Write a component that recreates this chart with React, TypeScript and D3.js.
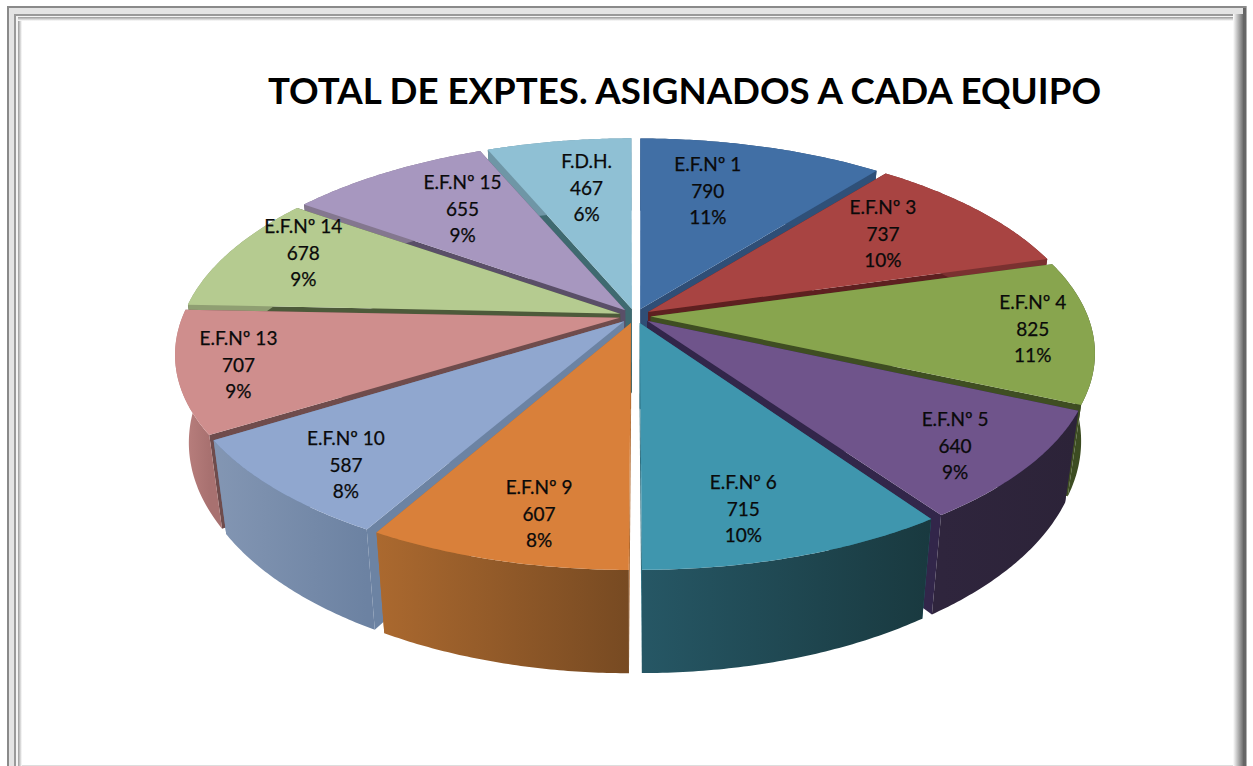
import React from "react";
import * as d3 from "d3";

const titleText = "TOTAL DE EXPTES. ASIGNADOS A CADA EQUIPO";
const names = ["E.F.Nº 1","E.F.Nº 3","E.F.Nº 4","E.F.Nº 5","E.F.Nº 6","E.F.Nº 9","E.F.Nº 10","E.F.Nº 13","E.F.Nº 14","E.F.Nº 15","F.D.H."];
const values = [790,737,825,640,715,607,587,707,678,655,467];
const percents = ["11%","10%","11%","9%","10%","8%","8%","9%","9%","9%","6%"];
const topColors = ["#416fa5","#a84442","#88a54e","#6f548b","#3f96ae","#d9803a","#90a7cf","#cf8e8d","#b5cb90","#a797bf","#8fc0d4"];
const sideStart = ["#2f5078","#7a3130","#3f4f24","#2f253d","#265765","#ab692f","#8396b3","#c08583","#8f9f72","#84778f","#6f96a6"];
const sideEnd = ["#2f5078","#7a3130","#3a4a20","#2c2338","#19393f","#774a22","#6c82a2","#a87170","#8f9f72","#84778f","#6f96a6"];
const wallColors = ["#2f4e76","#5e2020","#3f4e22","#32264a","#2f6f80","#b06a30","#6c83a3","#6f4c4c","#4d5a3a","#5a4f68","#3f6a70"];
// hand placement of the data labels, relative to the computed radial anchor
const labelNudgeX = [-6,-17,3,11,2,-6,-15,-8,0,2,-3];
const labelNudgeY = [0,1,-1,3,-2,0,4,0,-10,2,0];

const W = 1253, H = 766;
const cx = 635, cy = 316, A = 202, B = 437, k = 0.171, depth = 85, shrink = 0.97, explode = 0.036, pad = 0.005;

function project(u: number, v: number, low = false): [number, number] {
  const s = 1 / (1 - k * v);
  let x = cx + B * u * s;
  let y = cy + A * v * s;
  if (low) { x = cx + (x - cx) * shrink; y += depth * s; }
  return [x, y];
}
const line = d3.line<[number, number]>().curve(d3.curveLinear);

export default function App() {
  const arcs = d3.pie<number>().sort(null).startAngle(0).endAngle(2 * Math.PI).padAngle(pad)(values);
  const slices = arcs.map((a, i) => {
    const mid = (a.startAngle + a.endAngle) / 2;
    const ou = explode * Math.sin(mid), ov = -explode * Math.cos(mid);
    const n = 60;
    const t0 = a.startAngle + pad / 2, t1 = a.endAngle - pad / 2;
    const thetas = d3.range(n + 1).map(j => t0 + (t1 - t0) * j / n);
    const rim = thetas.map(t => [ou + Math.sin(t), ov - Math.cos(t)] as [number, number]);
    const rimTop = rim.map(p => project(p[0], p[1]));
    const rimLow = rim.map(p => project(p[0], p[1], true));
    const apexTop = project(ou, ov), apexLow = project(ou, ov, true);
    const c = Math.cos(mid);
    const r = 0.9 - (c > 0 ? 0.18 : 0.06) * Math.abs(c);
    const base = project(r * Math.sin(mid) * (1 - 0.2 * c * c * c * c), -r * c);
    const label: [number, number] = [base[0] + labelNudgeX[i], base[1] + 7 * Math.max(0, -c) + labelNudgeY[i]];
    const xs = rimTop.map(p => p[0]);
    return {
      i,
      order: -c,
      top: line([apexTop, ...rimTop])! + "Z",
      outer: line([...rimTop, ...rimLow.slice().reverse()])! + "Z",
      wallA: line([apexTop, rimTop[0], rimLow[0], apexLow])! + "Z",
      wallB: line([apexTop, rimTop[n], rimLow[n], apexLow])! + "Z",
      label,
      x1: d3.min(xs)!, x2: d3.max(xs)!,
    };
  });
  const sorted = slices.slice().sort((a, b) => a.order - b.order);

  return (
    <svg width={W} height={H} style={{ position: "absolute", left: 0, top: 0, background: "#fff" }}>
      <defs>
        {slices.map(s => (
          <linearGradient key={s.i} id={`side${s.i}`} gradientUnits="userSpaceOnUse" x1={s.x1} x2={s.x2} y1={0} y2={0}>
            <stop offset="0" stopColor={sideStart[s.i]} />
            <stop offset="1" stopColor={sideEnd[s.i]} />
          </linearGradient>
        ))}
        <linearGradient id="fadeL" x1="0" x2="1" y1="0" y2="0">
          <stop offset="0" stopColor="#9a9a9a" /><stop offset="1" stopColor="#ffffff" />
        </linearGradient>
        <linearGradient id="fadeT" x1="0" x2="0" y1="0" y2="1">
          <stop offset="0" stopColor="#9a9a9a" /><stop offset="1" stopColor="#ffffff" />
        </linearGradient>
        <linearGradient id="fadeR" x1="0" x2="1" y1="0" y2="0">
          <stop offset="0" stopColor="#ffffff" /><stop offset="1" stopColor="#707070" />
        </linearGradient>
      </defs>

      {/* frame */}
      <rect x={7} y={6} width={1240} height={760} fill="#e4e4e4" />
      <rect x={7} y={6} width={1240} height={2} fill="#8a8a8a" />
      <rect x={7} y={6} width={2} height={760} fill="#8a8a8a" />
      <rect x={14} y={14} width={1222} height={752} fill="#9a9a9a" />
      <rect x={16} y={16} width={1220} height={750} fill="#f4f4f4" />
      <rect x={18} y={17} width={1218} height={749} fill="#ffffff" />
      <rect x={18} y={17} width={4} height={749} fill="url(#fadeL)" />
      <rect x={18} y={17} width={1218} height={4} fill="url(#fadeT)" />
      <rect x={1233} y={14} width={10} height={752} fill="url(#fadeR)" />
      <rect x={1243} y={8} width={3} height={758} fill="#666666" />
      <rect x={1246} y={6} width={1} height={760} fill="#b0b0b0" />
      <rect x={1247} y={0} width={6} height={766} fill="#ffffff" />
      <rect x={22} y={765} width={1211} height={1} fill="#dddddd" />

      <text x={268} y={104} fontFamily="Lato, Carlito, sans-serif" fontWeight={700} fontSize={37} textLength={833} lengthAdjust="spacingAndGlyphs" fill="#000">{titleText}</text>

      {sorted.map(s => (
        <g key={s.i}>
          <path d={s.wallA} fill={wallColors[s.i]} />
          <path d={s.wallB} fill={wallColors[s.i]} />
          <path d={s.outer} fill={`url(#side${s.i})`} />
          <path d={s.top} fill={topColors[s.i]} />
        </g>
      ))}

      {slices.map(s => (
        <g key={s.i} fontFamily="Lato, Carlito, sans-serif" fontSize={19} fill="#0a0a0a" stroke="#0a0a0a" strokeWidth={0.25} textAnchor="middle">
          <text x={s.label[0]} y={s.label[1] - 20}>{names[s.i]}</text>
          <text x={s.label[0]} y={s.label[1] + 7}>{values[s.i]}</text>
          <text x={s.label[0]} y={s.label[1] + 33}>{percents[s.i]}</text>
        </g>
      ))}
    </svg>
  );
}
